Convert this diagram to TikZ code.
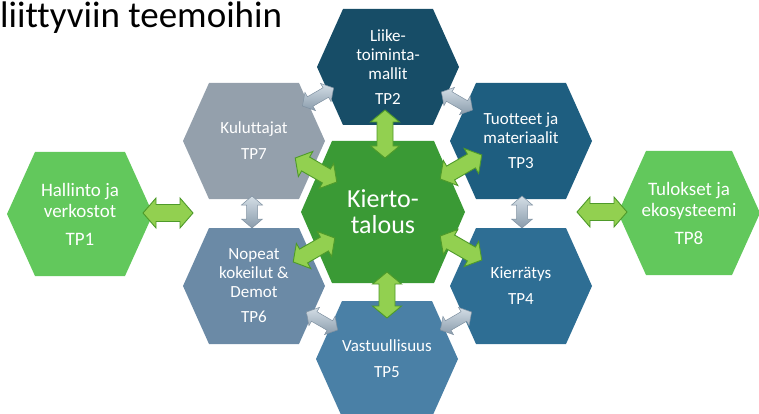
\documentclass[tikz,border=0pt]{standalone}
\usepackage{fontspec}
\setmainfont{Carlito}[Ligatures=NoCommon, RawFeature={-liga;-clig}]
\definecolor{cTwo}{HTML}{174D67}
\definecolor{cThree}{HTML}{1E5E80}
\definecolor{cFour}{HTML}{2E6E94}
\definecolor{cFive}{HTML}{4A80A6}
\definecolor{cSix}{HTML}{6B8AA6}
\definecolor{cSeven}{HTML}{94A0AC}
\definecolor{cCenter}{HTML}{3A9A35}
\definecolor{cSide}{HTML}{62C85C}
\definecolor{arrG}{HTML}{92D050}
\definecolor{arrGd}{HTML}{4E9A2A}
\definecolor{arrGrL}{HTML}{D4DEE6}
\definecolor{arrGrD}{HTML}{8A9CAC}
\definecolor{arrGrB}{HTML}{7F91A1}
\tikzset{
  hextext/.style={text=white, align=center, font=\fontsize{17}{19}\selectfont, inner sep=0pt},
  sidetext/.style={hextext, font=\fontsize{19}{21}\selectfont},
  centertext/.style={hextext, font=\fontsize{26}{26}\selectfont},
  greenarrow/.style={fill=arrG, draw=arrGd, line width=0.9pt, line join=miter},
  greyarrow/.style={top color=arrGrL, bottom color=arrGrD, draw=arrGrB, line width=0.5pt}
}
% #1 name #2 x #3 y #4 half width #5 half height #6 inset #7 colour #8 style #9 text
\newcommand\hexa[9]{%
  \fill[#7] (#2-#4,#3) -- (#2-#4+#6,#3-#5) -- (#2+#4-#6,#3-#5) -- (#2+#4,#3)
    -- (#2+#4-#6,#3+#5) -- (#2-#4+#6,#3+#5) -- cycle;
  \node[#8] (#1) at (#2,#3) {#9};}
% #1 style #2 x #3 y #4 angle #5 half length #6 half head width #7 half shaft #8 head length
\newcommand\dblarrow[8]{%
  \draw[#1, shift={(#2,#3)}, rotate=#4] (-#5,0) -- (-#5+#8,#6) -- (-#5+#8,#7)
    -- (#5-#8,#7) -- (#5-#8,#6) -- (#5,0) -- (#5-#8,-#6) -- (#5-#8,-#7)
    -- (-#5+#8,-#7) -- (-#5+#8,-#6) -- cycle;}
\begin{document}
\begin{tikzpicture}[x=1pt,y=-1pt]
\useasboundingbox (0,0) rectangle (759,414);
\clip (0,0) rectangle (759,414);
\node[anchor=base west, inner sep=0pt, font=\fontsize{37}{37}\selectfont] (title) at (0,28) {liittyviin teemoihin};
% hexagons
\hexa{T2}{388}{67}{71}{58}{26}{cTwo}{hextext}{Liike-\\toiminta-\\mallit\\[6pt]TP2}
\hexa{T3}{521}{141}{71}{58}{26}{cThree}{hextext}{Tuotteet ja\\materiaalit\\[6pt]TP3}
\hexa{T4}{521}{286}{71}{58}{26}{cFour}{hextext}{Kierrätys\\[7pt]TP4}
\hexa{T5}{387}{359}{71}{58}{26}{cFive}{hextext}{Vastuullisuus\\[7pt]TP5}
\hexa{T6}{254}{286}{71}{58}{26}{cSix}{hextext}{Nopeat\\kokeilut \&\\Demot\\[6pt]TP6}
\hexa{T7}{254}{141}{71}{58}{26}{cSeven}{hextext}{Kuluttajat\\[7pt]TP7}
\hexa{C}{383}{212}{82}{71}{31}{cCenter}{centertext}{Kierto-\\talous}
\hexa{T1}{80}{214}{73}{62}{28}{cSide}{sidetext}{Hallinto ja\\verkostot\\[7pt]TP1}
\hexa{T8}{689}{213}{71}{62}{28}{cSide}{sidetext}{Tulokset ja\\ekosysteemi\\[7pt]TP8}
% grey arrows between neighbours
\dblarrow{greyarrow}{318}{97}{30}{18}{10.5}{5.5}{9}
\dblarrow{greyarrow}{457}{101}{-30}{18}{10.5}{5.5}{9}
\dblarrow{greyarrow}{522}{212}{90}{16}{10.5}{5.5}{9}
\dblarrow{greyarrow}{252}{212}{90}{16}{10.5}{5.5}{9}
\dblarrow{greyarrow}{322}{321}{-30}{18}{10.5}{5.5}{9}
\dblarrow{greyarrow}{456}{321}{30}{18}{10.5}{5.5}{9}
% green arrows from the centre
\dblarrow{greenarrow}{385}{134}{90}{24}{14.5}{8}{12}
\dblarrow{greenarrow}{387}{295}{90}{23}{14.5}{8}{12}
\dblarrow{greenarrow}{316}{170}{-30}{24}{14.5}{8}{12}
\dblarrow{greenarrow}{461}{167}{30}{24}{14.5}{8}{12}
\dblarrow{greenarrow}{314}{250}{30}{24}{14.5}{8}{12}
\dblarrow{greenarrow}{461}{248}{-30}{24}{14.5}{8}{12}
% green side arrows
\dblarrow{greenarrow}{168}{213}{0}{25}{15}{8.5}{13}
\dblarrow{greenarrow}{602}{212}{0}{25}{15}{8.5}{13}
\end{tikzpicture}
\end{document}
